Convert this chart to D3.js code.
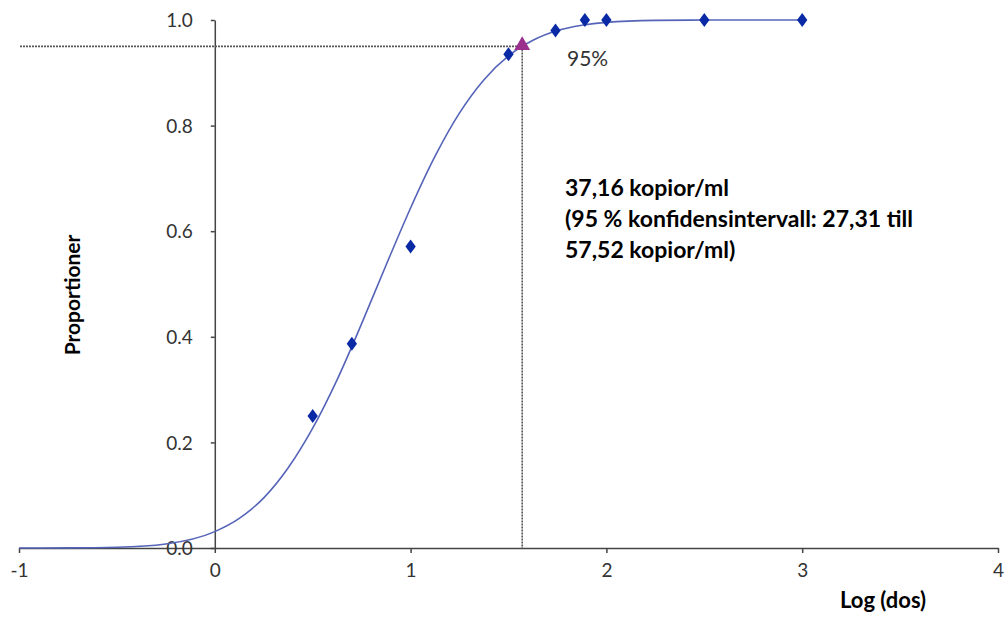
<!DOCTYPE html>
<meta charset="utf-8">
<script src="https://d3js.org/d3.v7.min.js"></script>
<style>
  body { margin: 0; background: #fff; }
  .tick text { font-family: "Lato", sans-serif; font-weight: 400; font-size: 19px; fill: #333; }
  .bold { font-family: "Lato", sans-serif; font-weight: 700; fill: #000; }
</style>
<div id="my_dataviz"></div>
<script>

// observed proportions (log dose, proportion)
var obsX = [0.5, 0.7, 1.0, 1.5, 1.74, 1.89, 2.0, 2.5, 3.0];
var obsY = [0.25, 0.387, 0.571, 0.935, 0.98, 1.0, 1.0, 1.0, 1.0];

// fitted curve
var fitX = [-1, -0.75, -0.5, -0.25, 0, 0.125, 0.25, 0.375, 0.5, 0.625, 0.75, 0.875, 1.0, 1.125, 1.25, 1.375, 1.5, 1.625, 1.75, 1.875, 2.0, 2.25, 2.5, 3.0];
var fitY = [0, 0.0002, 0.0014, 0.0076, 0.031, 0.056, 0.095, 0.152, 0.227, 0.319, 0.425, 0.536, 0.644, 0.742, 0.824, 0.887, 0.932, 0.9615, 0.98, 0.99, 0.9955, 0.9992, 0.9999, 1.0];

// 95% point
var hitX = 1.57, hitY = 0.95;

var xTicks = [-1, 0, 1, 2, 3, 4];
var yTicks = [0, 0.2, 0.4, 0.6, 0.8, 1.0];
var noteLines = ["37,16 kopior/ml", "(95 % konfidensintervall: 27,31 till", "57,52 kopior/ml)"];

var width = 1005, height = 620;

var svg = d3.select("#my_dataviz")
  .append("svg")
    .attr("width", width)
    .attr("height", height);

var x = d3.scaleLinear().domain([-1, 4]).range([19, 998]);
var y = d3.scaleLinear().domain([0, 1]).range([548, 20]);

// x axis at y = 0
var xAxis = svg.append("g")
  .attr("transform", "translate(0," + y(0) + ")")
  .call(d3.axisBottom(x).tickValues(xTicks).tickSize(5).tickSizeOuter(0).tickPadding(14)
    .tickFormat(function(d) { return String(d); }));

// y axis at x = 0
var yAxis = svg.append("g")
  .attr("transform", "translate(" + x(0) + ",0)")
  .call(d3.axisLeft(y).tickValues(yTicks).tickSize(4).tickSizeOuter(0).tickPadding(18).tickFormat(d3.format(".1f")));

svg.selectAll(".domain, .tick line").attr("stroke", "#444").attr("stroke-width", 1.5);
xAxis.selectAll(".tick text").attr("dy", "0.5em");
yAxis.selectAll(".tick text").attr("dy", "0.35em");

// dashed guide lines
svg.append("line")
  .attr("x1", 20).attr("x2", x(hitX))
  .attr("y1", y(hitY)).attr("y2", y(hitY))
  .attr("stroke", "#555").attr("stroke-width", 1.6).attr("stroke-dasharray", "2,1");
svg.append("line")
  .attr("x1", x(hitX)).attr("x2", x(hitX))
  .attr("y1", y(hitY)).attr("y2", y(0))
  .attr("stroke", "#555").attr("stroke-width", 1.6).attr("stroke-dasharray", "2,1");

// fitted curve
var line = d3.line()
  .x(function(d, i) { return x(fitX[i]); })
  .y(function(d) { return y(d); })
  .curve(d3.curveMonotoneX);
svg.append("path")
  .datum(fitY)
  .attr("d", line)
  .attr("fill", "none")
  .attr("stroke", "#5564b8")
  .attr("stroke-width", 1.6);

// observed points
svg.selectAll(".pt")
  .data(obsY)
  .enter()
  .append("path")
    .attr("class", "pt")
    .attr("d", d3.symbol().type(d3.symbolDiamond).size(70))
    .attr("transform", function(d, i) { return "translate(" + x(obsX[i]) + "," + y(d) + ") scale(1.15,0.9)"; })
    .attr("fill", "#0a2aa5");

// 95% marker
svg.append("path")
  .attr("d", d3.symbol().type(d3.symbolTriangle).size(110))
  .attr("transform", "translate(" + x(hitX) + "," + (y(hitY) - 1) + ")")
  .attr("fill", "#9a2f8e");

svg.append("text")
  .attr("x", 567).attr("y", 66)
  .attr("font-family", "Lato, sans-serif").attr("font-weight", 400)
  .attr("font-size", 21).attr("fill", "#333")
  .text("95%");

// annotation
svg.append("text")
  .attr("class", "bold")
  .attr("font-size", 23)
  .selectAll("tspan")
  .data(noteLines)
  .enter()
  .append("tspan")
    .attr("x", 565)
    .attr("y", function(d, i) { return 196 + i * 31; })
    .text(function(d) { return d; });

// axis titles
svg.append("text")
  .attr("class", "bold")
  .attr("font-size", 21)
  .attr("text-anchor", "middle")
  .attr("transform", "translate(80,295) rotate(-90)")
  .text("Proportioner");

svg.append("text")
  .attr("class", "bold")
  .attr("font-size", 22)
  .attr("x", 840).attr("y", 608)
  .text("Log (dos)");

</script>
